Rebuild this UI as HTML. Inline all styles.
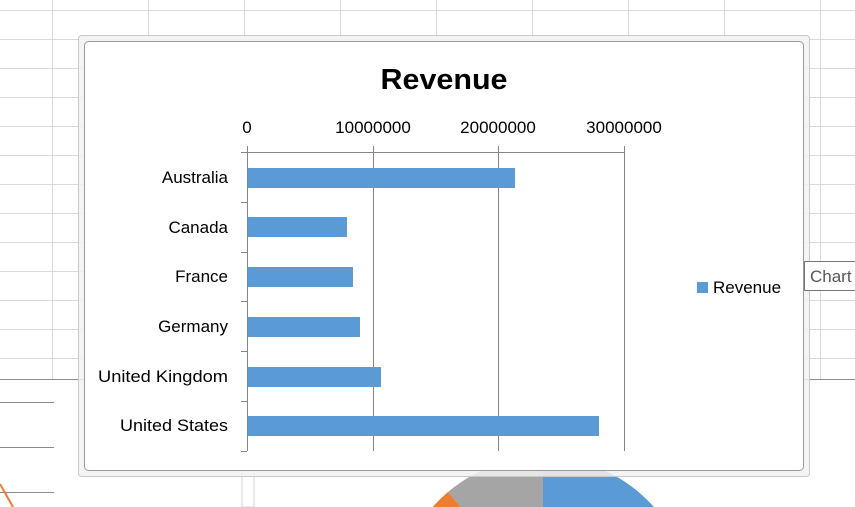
<!DOCTYPE html>
<html><head><meta charset="utf-8"><style>
html,body{margin:0;padding:0;background:#fff;overflow:hidden;width:855px;height:507px;}
svg{display:block;font-family:"Liberation Sans",Calibri,sans-serif;}
</style></head><body>
<svg width="855" height="507" viewBox="0 0 855 507" xmlns="http://www.w3.org/2000/svg">
<defs><clipPath id="c"><rect x="0" y="0" width="855" height="507"/></clipPath></defs>
<g stroke="#d9d9d9" stroke-width="1">
<line x1="52.5" y1="0" x2="52.5" y2="380"/><line x1="148.5" y1="0" x2="148.5" y2="380"/>
<line x1="244.5" y1="0" x2="244.5" y2="40"/><line x1="340.5" y1="0" x2="340.5" y2="40"/>
<line x1="436.5" y1="0" x2="436.5" y2="40"/><line x1="532.5" y1="0" x2="532.5" y2="40"/>
<line x1="628.5" y1="0" x2="628.5" y2="40"/><line x1="724.5" y1="0" x2="724.5" y2="40"/>
<line x1="820.5" y1="0" x2="820.5" y2="380"/>
<line x1="0" y1="10.5" x2="855" y2="10.5"/><line x1="0" y1="39.5" x2="855" y2="39.5"/>
<line x1="0" y1="68.5" x2="855" y2="68.5"/><line x1="0" y1="97.5" x2="855" y2="97.5"/>
<line x1="0" y1="126.5" x2="855" y2="126.5"/><line x1="0" y1="155.5" x2="855" y2="155.5"/>
<line x1="0" y1="184.5" x2="855" y2="184.5"/><line x1="0" y1="213.5" x2="855" y2="213.5"/>
<line x1="0" y1="242.5" x2="855" y2="242.5"/><line x1="0" y1="271.5" x2="855" y2="271.5"/>
<line x1="0" y1="300.5" x2="855" y2="300.5"/><line x1="0" y1="329.5" x2="855" y2="329.5"/>
<line x1="0" y1="358.5" x2="855" y2="358.5"/>
</g>
<g stroke="#8c8c8c" stroke-width="1">
<line x1="0" y1="379.5" x2="855" y2="379.5"/>
<line x1="0" y1="402.5" x2="54" y2="402.5"/><line x1="0" y1="447.5" x2="54" y2="447.5"/>
<line x1="0" y1="492.5" x2="54" y2="492.5"/>
</g>
<line x1="0" y1="484" x2="13" y2="507" stroke="#ed7d31" stroke-width="2"/>
<rect x="242" y="470" width="12" height="37" fill="#fff" stroke="#d0d0d0"/>
<g clip-path="url(#c)">
<path d="M543 605 L543 457 A148 148 0 0 1 691 605 Z" fill="#5b9bd5"/>
<path d="M543 605 L448 492 A148 148 0 0 1 543 457 Z" fill="#a5a5a5"/>
<path d="M543 605 L413 535 A148 148 0 0 1 448 492 Z" fill="#ed7d31"/>
</g>
<rect x="78.5" y="35.5" width="731" height="441" rx="3" fill="#f2f2f2" fill-opacity="0.85" stroke="#c8c8c8"/>
<rect x="84.5" y="41.5" width="719" height="429" rx="4" fill="#fff" stroke="#9a9a9a"/>
<text x="444" y="89" font-size="29" font-weight="bold" text-anchor="middle" fill="#000" textLength="127" lengthAdjust="spacingAndGlyphs">Revenue</text>
<g font-size="17" fill="#000" text-anchor="middle">
<text x="247" y="133">0</text><text x="373" y="133">10000000</text>
<text x="498" y="133">20000000</text><text x="624" y="133">30000000</text>
</g>
<g stroke="#868686" stroke-width="1">
<line x1="373.5" y1="146" x2="373.5" y2="451"/><line x1="498.5" y1="146" x2="498.5" y2="451"/>
<line x1="624.5" y1="146" x2="624.5" y2="451"/>
<line x1="247" y1="152.5" x2="624.5" y2="152.5"/>
<line x1="247.5" y1="146" x2="247.5" y2="451"/>
<line x1="241" y1="152.5" x2="247" y2="152.5"/><line x1="241" y1="202.5" x2="247" y2="202.5"/>
<line x1="241" y1="252.5" x2="247" y2="252.5"/><line x1="241" y1="301.5" x2="247" y2="301.5"/>
<line x1="241" y1="351.5" x2="247" y2="351.5"/><line x1="241" y1="401.5" x2="247" y2="401.5"/>
<line x1="241" y1="451.5" x2="247" y2="451.5"/>
</g>
<g fill="#5b9bd5">
<rect x="248" y="168" width="267" height="20"/>
<rect x="248" y="217" width="99" height="20"/>
<rect x="248" y="267" width="105" height="20"/>
<rect x="248" y="317" width="112" height="20"/>
<rect x="248" y="367" width="133" height="20"/>
<rect x="248" y="416" width="351" height="20"/>
</g>
<g font-size="17" fill="#000" text-anchor="end">
<text x="228" y="183">Australia</text><text x="228" y="233">Canada</text>
<text x="228" y="282">France</text><text x="228" y="332">Germany</text>
<text x="228" y="382" textLength="130" lengthAdjust="spacingAndGlyphs">United Kingdom</text><text x="228" y="431" textLength="108" lengthAdjust="spacingAndGlyphs">United States</text>
</g>
<rect x="697" y="282" width="11" height="11" fill="#5b9bd5"/>
<text x="713" y="293" font-size="17" fill="#000">Revenue</text>
<rect x="804.5" y="261.5" width="55" height="29" fill="#fff" stroke="#767676"/>
<text x="810" y="282" font-size="17" fill="#575757">Chart</text>
</svg>
</body></html>
